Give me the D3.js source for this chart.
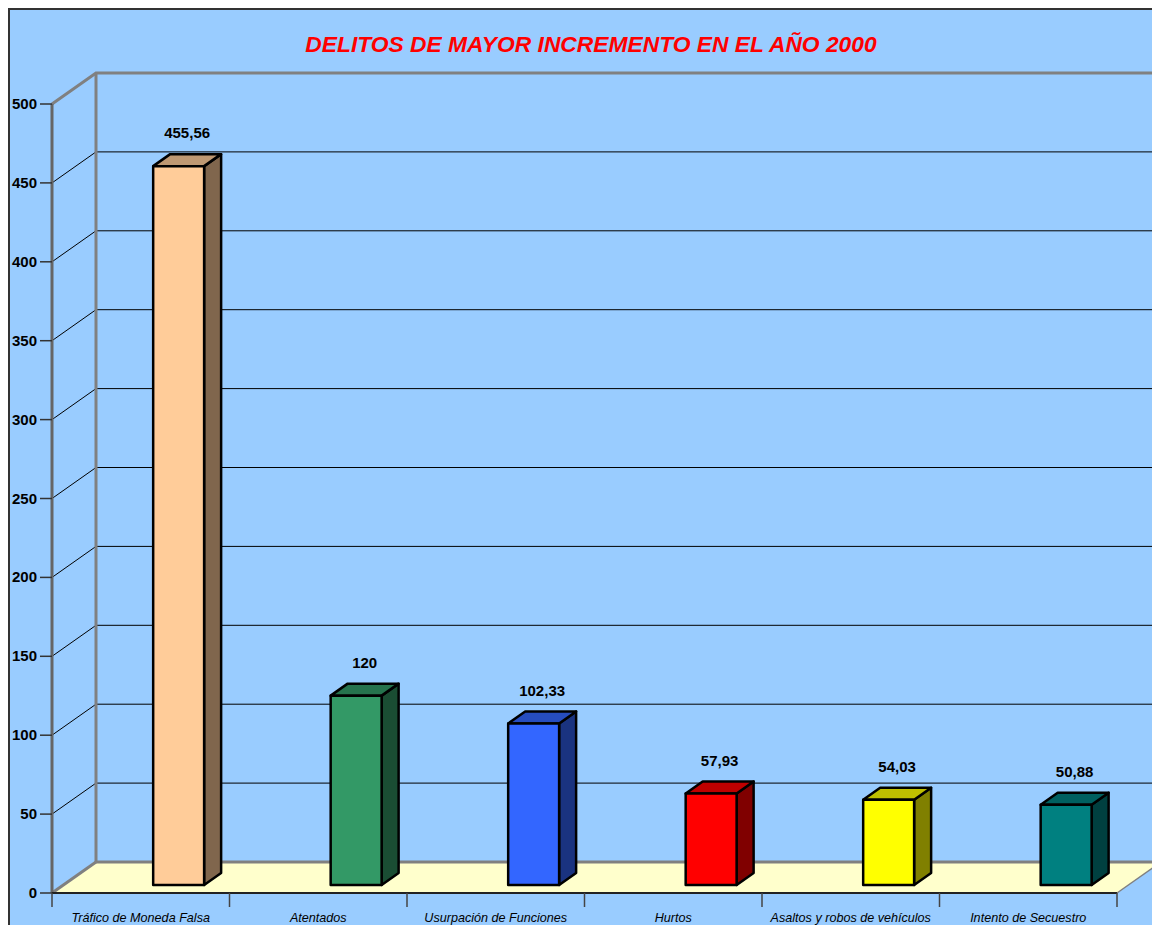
<!DOCTYPE html>
<html>
<head>
<meta charset="utf-8">
<script src="https://cdn.jsdelivr.net/npm/d3@7"></script>
<style>
  html, body { margin: 0; padding: 0; background: #fff; }
  svg { display: block; }
  text { font-family: Arial, "Liberation Sans", sans-serif; }
</style>
</head>
<body>
<div id="chart"></div>
<script>
const categories = ['Tráfico de Moneda Falsa', 'Atentados', 'Usurpación de Funciones', 'Hurtos', 'Asaltos y robos de vehículos', 'Intento de Secuestro'];
const values = [455.56, 120, 102.33, 57.93, 54.03, 50.88];
const valueLabels = ['455,56', '120', '102,33', '57,93', '54,03', '50,88'];
const barColors = ['#FFCC99', '#339966', '#3366FF', '#FF0000', '#FFFF00', '#008080'];
const yTicks = [0, 50, 100, 150, 200, 250, 300, 350, 400, 450, 500];

const width = 1152, height = 925;
const depthX = 44, depthY = -31;          // profundidad del gráfico 3D
const barOffY = -8;                       // posición de la cara frontal de la barra
const barDX = 17, barDY = -12;            // profundidad de la barra

const svg = d3.select('#chart').append('svg')
    .attr('width', width)
    .attr('height', height);

// fondo
svg.append('rect')
    .attr('x', 9).attr('y', 9)
    .attr('width', width).attr('height', height)
    .attr('fill', '#99CCFF')
    .attr('stroke', '#333')
    .attr('stroke-width', 2);

const y = d3.scaleLinear().domain([0, 500]).range([893, 104]);
const x = d3.scaleBand().domain(categories).range([52, 1117]);
const bw = x.bandwidth();

// titulo
svg.append('text')
    .attr('x', 591).attr('y', 52)
    .attr('text-anchor', 'middle')
    .attr('fill', '#FF0000')
    .style('font-size', '22.8px')
    .style('font-weight', 'bold')
    .style('font-style', 'italic')
    .text('DELITOS DE MAYOR INCREMENTO EN EL AÑO 2000');

// piso
const x0 = x.range()[0], x1 = x.range()[1];
svg.append('path')
    .attr('d', `M${x0},${y(0)} L${x0 + depthX},${y(0) + depthY} L${x1 + depthX},${y(0) + depthY} L${x1},${y(0)} Z`)
    .attr('fill', '#FFFFCC');

// lineas de cuadricula
const grid = svg.append('g');
grid.selectAll('line.h')
    .data(yTicks.filter(d => d > 0 && d < 500))
    .enter()
    .append('line')
    .attr('x1', x0 + depthX).attr('x2', width)
    .attr('y1', d => y(d) + depthY).attr('y2', d => y(d) + depthY)
    .attr('stroke', '#000').attr('stroke-width', 1);
grid.selectAll('line.d')
    .data(yTicks.filter(d => d > 0 && d < 500))
    .enter()
    .append('line')
    .attr('x1', x0).attr('x2', x0 + depthX)
    .attr('y1', d => y(d)).attr('y2', d => y(d) + depthY)
    .attr('stroke', '#000').attr('stroke-width', 1);

// bordes de la pared
const wall = svg.append('g')
    .attr('fill', 'none')
    .attr('stroke', '#808080')
    .attr('stroke-width', 3);
wall.append('path')
    .attr('d', `M${x0},${y(500)} L${x0 + depthX},${y(500) + depthY} L${width},${y(500) + depthY}`);
wall.append('path')
    .attr('d', `M${x0 + depthX},${y(500) + depthY} L${x0 + depthX},${y(0) + depthY} L${width},${y(0) + depthY}`);
wall.append('path')
    .attr('d', `M${x0},${y(0)} L${x0 + depthX},${y(0) + depthY}`);
svg.append('path')
    .attr('d', `M${x1},${y(0)} L${x1 + depthX},${y(0) + depthY}`)
    .attr('stroke', '#808080').attr('stroke-width', 1.5);

// eje Y
svg.append('line')
    .attr('x1', x0).attr('x2', x0)
    .attr('y1', y(500)).attr('y2', y(0))
    .attr('stroke', '#666').attr('stroke-width', 3);
const yAxis = svg.append('g');
yAxis.selectAll('line')
    .data(yTicks)
    .enter()
    .append('line')
    .attr('x1', x0 - 12).attr('x2', x0)
    .attr('y1', d => y(d)).attr('y2', d => y(d))
    .attr('stroke', '#333').attr('stroke-width', 1.5);
yAxis.selectAll('text')
    .data(yTicks)
    .enter()
    .append('text')
    .attr('x', x0 - 15)
    .attr('y', d => y(d) + 5)
    .attr('text-anchor', 'end')
    .style('font-size', '15px')
    .style('font-weight', 'bold')
    .text(d => d);

// eje X
svg.append('line')
    .attr('x1', x0).attr('x2', x1)
    .attr('y1', y(0)).attr('y2', y(0))
    .attr('stroke', '#222').attr('stroke-width', 2);
svg.append('g').selectAll('line')
    .data(categories.map(c => x(c)).concat([x1]))
    .enter()
    .append('line')
    .attr('x1', d => d).attr('x2', d => d)
    .attr('y1', y(0)).attr('y2', y(0) + 14)
    .attr('stroke', '#444').attr('stroke-width', 1.5);
svg.append('g').selectAll('text')
    .data(categories)
    .enter()
    .append('text')
    .attr('x', d => x(d) + bw / 2)
    .attr('y', 922)
    .attr('text-anchor', 'middle')
    .style('font-size', '12.6px')
    .style('font-style', 'italic')
    .text(d => d);

// barras 3D
const shade = (c, k) => {
    const col = d3.rgb(c);
    return d3.rgb(col.r * k, col.g * k, col.b * k).formatHex();
};
const bars = svg.append('g')
    .selectAll('g')
    .data(values)
    .enter()
    .append('g')
    .attr('stroke', '#000')
    .attr('stroke-width', 2.5)
    .attr('stroke-linejoin', 'round');

const bx = (i) => x(categories[i]) + bw * 0.57;
const bWidth = bw * 0.287;
const yb = y(0) + barOffY;
const yt = (d) => y(d) + barOffY;

bars.append('path')
    .attr('d', (d, i) => `M${bx(i) + bWidth},${yb} L${bx(i) + bWidth + barDX},${yb + barDY} L${bx(i) + bWidth + barDX},${yt(d) + barDY} L${bx(i) + bWidth},${yt(d)} Z`)
    .attr('fill', (d, i) => shade(barColors[i], 0.5));
bars.append('path')
    .attr('d', (d, i) => `M${bx(i)},${yt(d)} L${bx(i) + barDX},${yt(d) + barDY} L${bx(i) + bWidth + barDX},${yt(d) + barDY} L${bx(i) + bWidth},${yt(d)} Z`)
    .attr('fill', (d, i) => shade(barColors[i], 0.75));
bars.append('rect')
    .attr('x', (d, i) => bx(i))
    .attr('y', d => yt(d))
    .attr('width', bWidth)
    .attr('height', d => yb - yt(d))
    .attr('fill', (d, i) => barColors[i]);

// etiquetas de datos
svg.append('g').selectAll('text')
    .data(values)
    .enter()
    .append('text')
    .attr('x', (d, i) => bx(i) + (bWidth + barDX) / 2)
    .attr('y', d => yt(d) + barDY - 16)
    .attr('text-anchor', 'middle')
    .style('font-size', '15px')
    .style('font-weight', 'bold')
    .text((d, i) => valueLabels[i]);
</script>
</body>
</html>
